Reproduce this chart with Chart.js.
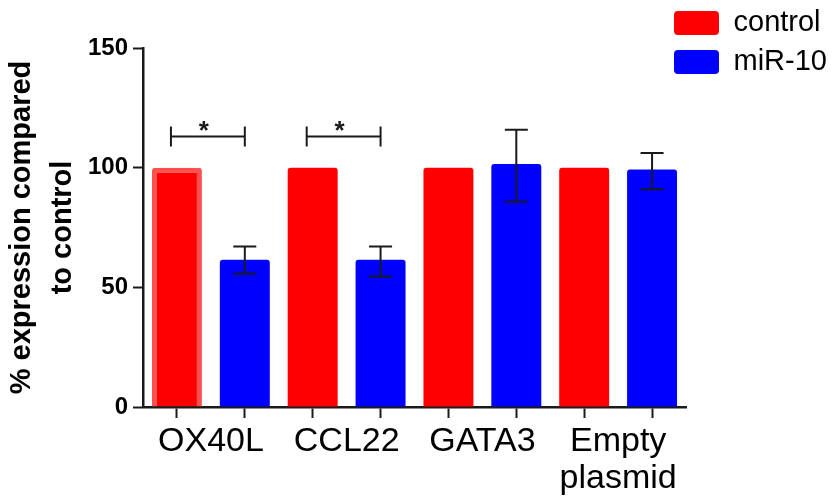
<!DOCTYPE html>
<html>
<head>
<meta charset="utf-8">
<script src="https://cdn.jsdelivr.net/npm/chart.js@4"></script>
<style>
  html, body { margin: 0; padding: 0; background: #fff; }
</style>
</head>
<body>
<canvas id="exprChart" width="833" height="499"></canvas>
<script>
// values
const genes = ['OX40L', 'CCL22', 'GATA3', ['Empty', 'plasmid']];
const controlValues = [100, 100, 100, 100];
const mirValues = [61.5, 61.5, 101.5, 99.2];
const mirErrLow = [55.7, 54.5, 85.8, 91.0];
const mirErrHigh = [67.1, 67.1, 115.8, 106.1];
const sigGenes = [0, 1];      // genes marked with a * bracket
const sigLevel = 113;
const yTicks = [0, 50, 100, 150];

// one slot per bar, label sits between the pair
const slotLabels = [], controlSlots = [], mirSlots = [];
genes.forEach((g, i) => {
  slotLabels.push(g, '');
  controlSlots.push(controlValues[i], null);
  mirSlots.push(null, mirValues[i]);
});

Chart.defaults.font.family = '"Liberation Sans", Arial, sans-serif';
Chart.defaults.color = '#000';

// error bars on the miR-10 bars
const errorBars = {
  id: 'errorBars',
  afterDatasetsDraw(chart) {
    const { ctx } = chart;
    const y = chart.scales.y;
    const meta = chart.getDatasetMeta(1);
    ctx.save();
    ctx.strokeStyle = '#1a1a1a';
    ctx.lineWidth = 2;
    genes.forEach((g, i) => {
      const bar = meta.data[2 * i + 1];
      const hi = y.getPixelForValue(mirErrHigh[i]);
      const lo = y.getPixelForValue(mirErrLow[i]);
      const cap = bar.width * 0.23;
      ctx.beginPath();
      ctx.moveTo(bar.x, hi); ctx.lineTo(bar.x, lo);
      ctx.moveTo(bar.x - cap, hi); ctx.lineTo(bar.x + cap, hi);
      ctx.moveTo(bar.x - cap, lo); ctx.lineTo(bar.x + cap, lo);
      ctx.stroke();
    });
    ctx.restore();
  }
};

// significance brackets with *
const sigBrackets = {
  id: 'sigBrackets',
  afterDatasetsDraw(chart) {
    const { ctx } = chart;
    const y = chart.scales.y;
    const red = chart.getDatasetMeta(0).data;
    const blue = chart.getDatasetMeta(1).data;
    const yy = y.getPixelForValue(sigLevel);
    ctx.save();
    ctx.strokeStyle = '#1a1a1a';
    ctx.fillStyle = '#1a1a1a';
    ctx.lineWidth = 2;
    sigGenes.forEach(i => {
      const l = red[2 * i].x - red[2 * i].width * 0.12;
      const r = blue[2 * i + 1].x;
      ctx.beginPath();
      ctx.moveTo(l, yy); ctx.lineTo(r, yy);
      ctx.moveTo(l, yy - 10); ctx.lineTo(l, yy + 10);
      ctx.moveTo(r, yy - 10); ctx.lineTo(r, yy + 10);
      ctx.stroke();
      ctx.font = 'bold 26px "Liberation Sans", Arial, sans-serif';
      ctx.textAlign = 'center';
      ctx.textBaseline = 'alphabetic';
      ctx.fillText('*', (l + r) / 2 - 4, yy + 2);
    });
    ctx.restore();
  }
};

// put the legend in the top right corner
const legendSpot = {
  id: 'legendSpot',
  afterLayout(chart) {
    const lg = chart.legend;
    const pad = lg.options.labels.padding;
    lg.left = 674 - pad;
    lg.top = 8.5 - pad;
    lg.right = lg.left + lg.width + pad;
    lg.bottom = lg.top + lg.height + pad;
  }
};

new Chart(document.getElementById('exprChart'), {
  type: 'bar',
  data: {
    labels: slotLabels,
    datasets: [
      {
        label: 'control',
        data: controlSlots,
        backgroundColor: '#ff0000',
        borderColor: '#ff5050',
        borderWidth: controlSlots.map((v, i) => i === 0 ? 5 : 0)
      },
      {
        label: 'miR-10',
        data: mirSlots,
        backgroundColor: '#0000ff',
        borderWidth: 0
      }
    ]
  },
  options: {
    responsive: false,
    animation: false,
    layout: { padding: { top: 48, right: 147, left: 0, bottom: 0 } },
    datasets: {
      bar: {
        grouped: false,
        barPercentage: 0.736,
        categoryPercentage: 1,
        borderRadius: 3,
        borderSkipped: 'start'
      }
    },
    plugins: {
      tooltip: { enabled: false },
      legend: {
        position: 'chartArea',
        align: 'start',
        labels: {
          boxWidth: 45,
          boxHeight: 24,
          padding: 10,
          useBorderRadius: true,
          borderRadius: 4,
          color: '#000',
          font: { size: 29 },
          generateLabels: chart => Chart.defaults.plugins.legend.labels.generateLabels(chart)
            .map(it => ({ ...it, lineWidth: 0 }))
        }
      }
    },
    scales: {
      x: {
        offset: true,
        grid: { drawOnChartArea: false, drawTicks: true, tickLength: 11, tickWidth: 2, tickColor: '#1a1a1a', offset: false },
        border: { color: '#1a1a1a', width: 2.5 },
        ticks: {
          autoSkip: false, maxRotation: 0, minRotation: 0,
          labelOffset: 34, padding: 5,
          font: { size: 34, lineHeight: 1.1 }
        },
        afterFit: s => { s.height = 92; }
      },
      y: {
        min: 0,
        max: 150,
        afterBuildTicks: s => { s.ticks = yTicks.map(v => ({ value: v })); },
        grid: { drawOnChartArea: false, tickLength: 10, tickWidth: 2, tickColor: '#1a1a1a' },
        border: { color: '#1a1a1a', width: 2.5 },
        ticks: { padding: 5, font: { size: 24, weight: 'bold' } },
        title: {
          display: true,
          text: ['% expression compared', 'to control'],
          font: { size: 29, weight: 'bold', lineHeight: 1.4 },
          padding: { top: 2, bottom: 0 }
        },
        afterFit: s => { s.width = 143; }
      }
    }
  },
  plugins: [errorBars, sigBrackets, legendSpot]
});
</script>
</body>
</html>
